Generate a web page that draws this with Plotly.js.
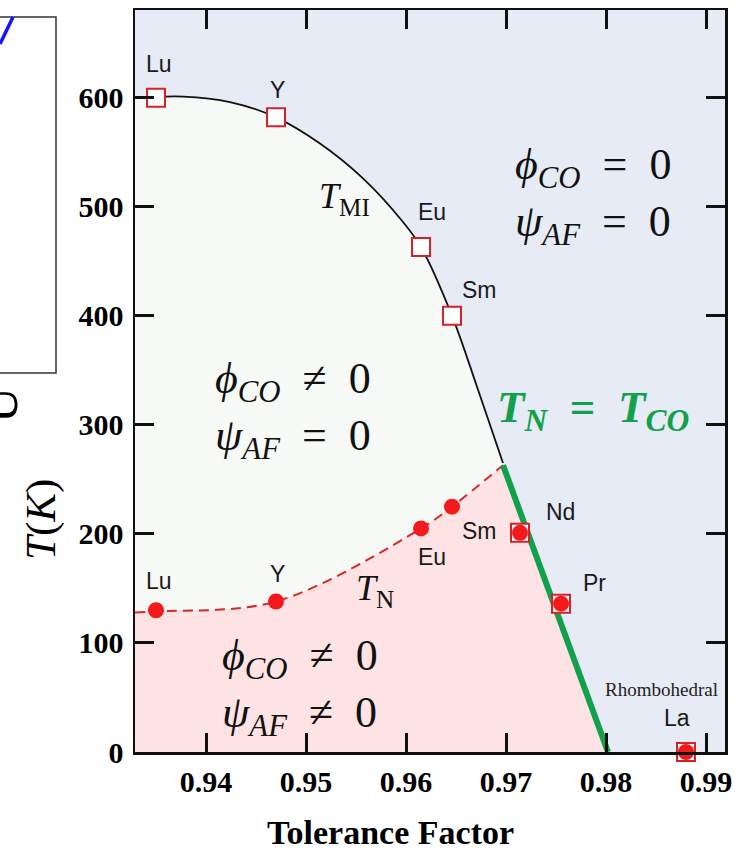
<!DOCTYPE html>
<html>
<head>
<meta charset="utf-8">
<script src="https://cdn.plot.ly/plotly-3.0.1.min.js"></script>
<style>html,body{margin:0;padding:0;background:#fff;}#chart{width:735px;height:851px;}</style>
</head>
<body>
<div id="chart"></div>
<script>
// ---- data ----
const elements   = ['Lu', 'Y', 'Eu', 'Sm', 'Nd', 'Pr', 'La'];
const tolerance  = [0.935, 0.947, 0.9615, 0.9646, 0.9714, 0.9755, 0.988];
const tMI        = [600, 582, 463, 400, 201, 136, 0];   // open squares
const tN         = [130, 138, 205, 225, 201, 136, 0];   // filled circles

// T_MI boundary curve (black, solid)
const tmiCurveX = [0.9329, 0.9377, 0.9424, 0.947, 0.9514, 0.9557, 0.9597, 0.9615, 0.9646, 0.9671, 0.9697];
const tmiCurveY = [599.7, 601, 596, 582, 558, 526, 486, 463, 400, 335, 265];

// T_N boundary curve (red, dashed)
const tnCurveX = [0.9329, 0.935, 0.947, 0.9615, 0.9646, 0.9697];
const tnCurveY = [128, 129, 138, 205, 225, 263];

// T_N = T_CO line (green)
const tcoLineX = [0.9697, 0.9802];
const tcoLineY = [263, 0];

const xTicks = [0.94, 0.95, 0.96, 0.97, 0.98, 0.99];
const xTickText = ['0.94', '0.95', '0.96', '0.97', '0.98', '0.99'];
const yTicks = [0, 100, 200, 300, 400, 500, 600];

// label positions
const topLabelX = [0.9353, 0.9471, 0.9626, 0.9673, 0.9754, 0.9788, 0.9871];
const topLabelY = [631, 607, 495, 424, 220, 155, 31];
const botLabelX = [0.9353, 0.9471, 0.9626, 0.9673];
const botLabelY = [157, 163, 179, 203];

const serif = 'Liberation Serif, Times New Roman, serif';
const sans = 'Liberation Sans, Arial, sans-serif';

const traces = [
  { x: tmiCurveX, y: tmiCurveY, mode: 'lines', fill: 'tozeroy', fillcolor: '#f7f9f6',
    line: { color: '#111', width: 1.8, shape: 'spline', smoothing: 1 }, hoverinfo: 'skip' },
  { x: tnCurveX, y: tnCurveY, mode: 'lines', fill: 'tozeroy', fillcolor: '#fde3e3',
    line: { color: '#d42a2a', width: 2, dash: '10px,6px', shape: 'spline', smoothing: 1 }, hoverinfo: 'skip' },
  { x: tcoLineX, y: tcoLineY, mode: 'lines', fill: 'tozeroy', fillcolor: '#fde3e3',
    line: { color: '#12a04c', width: 6 }, hoverinfo: 'skip' },
  { x: tolerance, y: tMI, mode: 'markers', cliponaxis: false,
    marker: { symbol: 'square', size: 18, color: '#ffffff', line: { color: '#d3222a', width: 2 } } },
  { x: tolerance, y: tN, mode: 'markers', cliponaxis: false,
    marker: { symbol: 'circle', size: 16, color: '#f21a1a', line: { width: 0 } } }
];

const ann = [];
elements.forEach((el, i) => {
  ann.push({ x: topLabelX[i], y: topLabelY[i], text: el, showarrow: false,
    font: { family: sans, size: 23, color: '#1a1a1a' }, xanchor: 'center', yanchor: 'middle' });
});
elements.slice(0, 4).forEach((el, i) => {
  ann.push({ x: botLabelX[i], y: botLabelY[i], text: el, showarrow: false,
    font: { family: sans, size: 23, color: '#1a1a1a' }, xanchor: 'center', yanchor: 'middle' });
});
ann.push({ x: 0.9855, y: 57, text: 'Rhombohedral', showarrow: false,
  font: { family: serif, size: 19, color: '#222' } });
ann.push({ x: 0.9538, y: 508, text: '<i>T</i><sub>MI</sub>', showarrow: false,
  font: { family: serif, size: 36, color: '#111' } });
ann.push({ x: 0.9569, y: 148, text: '<i>T</i><sub>N</sub>', showarrow: false,
  font: { family: serif, size: 36, color: '#111' } });
ann.push({ x: 0.9787, y: 510, align: 'left', showarrow: false,
  text: '<i>ϕ</i><sub><i>CO</i></sub>  =  0<br><i>ψ</i><sub><i>AF</i></sub>  =  0',
  font: { family: serif, size: 44, color: '#111' } });
ann.push({ x: 0.9487, y: 314, align: 'left', showarrow: false,
  text: '<i>ϕ</i><sub><i>CO</i></sub>  ≠  0<br><i>ψ</i><sub><i>AF</i></sub>  =  0',
  font: { family: serif, size: 44, color: '#111' } });
ann.push({ x: 0.9494, y: 60, align: 'left', showarrow: false,
  text: '<i>ϕ</i><sub><i>CO</i></sub>  ≠  0<br><i>ψ</i><sub><i>AF</i></sub>  ≠  0',
  font: { family: serif, size: 44, color: '#111' } });
ann.push({ x: 0.9787, y: 314, showarrow: false,
  text: '<b><i>T</i><sub><i>N</i></sub>  =  <i>T</i><sub><i>CO</i></sub></b>',
  font: { family: serif, size: 45, color: '#12a04c' } });
// axis titles
ann.push({ xref: 'paper', yref: 'paper', x: (390 - 135) / 590, y: (752 - 832) / 742,
  text: '<b>Tolerance Factor</b>', showarrow: false, xanchor: 'center', yanchor: 'middle',
  font: { family: serif, size: 34, color: '#000' } });
ann.push({ xref: 'paper', yref: 'paper', x: (41 - 135) / 590, y: (752 - 520) / 742,
  text: '<i>T</i>(<i>K</i>)', showarrow: false, textangle: -90, xanchor: 'center', yanchor: 'middle',
  font: { family: serif, size: 43, color: '#000' } });
// fragment of neighbouring figure
ann.push({ xref: 'paper', yref: 'paper', x: (0 - 135) / 590, y: (752 - 405) / 742,
  text: 'U', showarrow: false, textangle: -90, xanchor: 'center', yanchor: 'middle',
  font: { family: serif, size: 50, color: '#000' } });

const layout = {
  width: 735, height: 851,
  margin: { l: 135, r: 10, t: 10, b: 99 },
  paper_bgcolor: '#ffffff',
  plot_bgcolor: '#e7ebf6',
  showlegend: false,
  xaxis: {
    range: [0.9329, 0.9919], tickvals: xTicks, ticktext: xTickText,
    ticks: 'inside', ticklen: 19, tickwidth: 3, tickcolor: '#111',
    showline: true, linewidth: 2.5, linecolor: '#111', mirror: 'ticks',
    showgrid: false, zeroline: false, ticklabelstandoff: 1,
    tickfont: { family: serif, size: 30, color: '#000', weight: 'bold' }
  },
  yaxis: {
    range: [0, 680.4], tickvals: yTicks,
    ticks: 'inside', ticklen: 19, tickwidth: 3, tickcolor: '#111',
    showline: true, linewidth: 2.5, linecolor: '#111', mirror: 'ticks',
    showgrid: false, zeroline: false, ticklabelstandoff: 3,
    tickfont: { family: serif, size: 30, color: '#000', weight: 'bold' }
  },
  annotations: ann,
  shapes: [
    { type: 'rect', xref: 'paper', yref: 'paper', x0: -145 / 590, x1: -79 / 590,
      y0: (752 - 373) / 742, y1: (752 - 17) / 742, line: { color: '#333', width: 1.5 } },
    { type: 'line', xref: 'paper', yref: 'paper', x0: -135 / 590, y0: (752 - 44) / 742,
      x1: -122 / 590, y1: (752 - 17) / 742, line: { color: '#1414ff', width: 3.5 } }
  ]
};

Plotly.newPlot('chart', traces, layout, { staticPlot: true, displayModeBar: false });
</script>
</body>
</html>
